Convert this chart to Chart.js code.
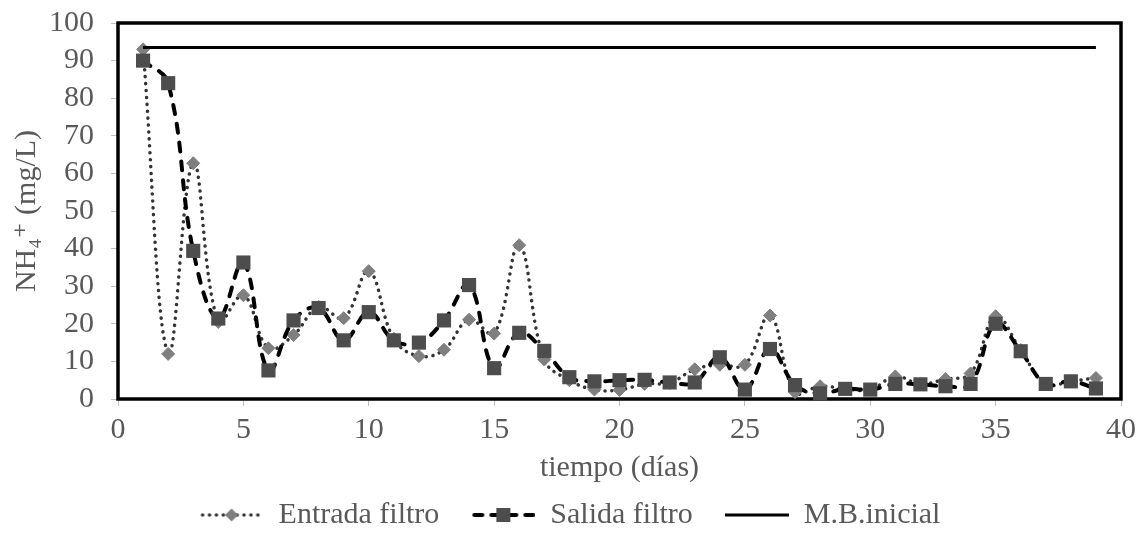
<!DOCTYPE html>
<html>
<head>
<meta charset="utf-8">
<script src="https://cdn.jsdelivr.net/npm/chart.js@4.4.1/dist/chart.umd.min.js"></script>
<style>
html,body{margin:0;padding:0;background:#fff;}
#c{display:block;}
</style>
</head>
<body>
<canvas id="c" width="1142" height="539"></canvas>
<script>
// ---- data ----
const days = [1,2,3,4,5,6,7,8,9,10,11,12,13,14,15,16,17,18,19,20,21,22,23,24,25,26,27,28,29,30,31,32,33,34,35,36,37,38,39];
const entradaFiltro = [93,12,62.7,20.5,27.6,13.5,17,24.5,21.5,34,16,11.4,13.1,21.1,17.4,40.9,10.5,5,2.5,2.4,4,4.3,7.9,9.1,9.1,22.2,1.8,3.4,2.7,2.5,6,4,5.3,6.8,22,13,4,4.7,5.6];
const salidaFiltro = [90,84,39.4,21.4,36.3,7.6,20.9,24.2,15.6,23.1,15.6,15,20.9,30.3,8.2,17.6,12.8,5.8,4.7,5,5.1,4.4,4.4,11.1,2.5,13.3,3.7,1.5,2.7,2.5,4,3.9,3.4,4,20,12.7,4,4.7,2.8];
const mbDays = [1, 39];
const mbInicial = [93.5, 93.5];
const xTickValues = [0,5,10,15,20,25,30,35,40];
const yTickValues = [0,10,20,30,40,50,60,70,80,90,100];
const seriesNames = ['Entrada filtro', 'Salida filtro', 'M.B.inicial'];
const xTitle = 'tiempo (días)';
const yTitle = 'NH\u2084\u207A (mg/L)';

// ---- styles ----
const FONT = "'Liberation Serif', 'Times New Roman', 'DejaVu Serif', serif";
const FS = 30;
const TEXT = '#595959';
const AXIS = '#bfbfbf';

function pts(xs, ys){ return xs.map((x,i)=>({x:x, y:ys[i]})); }

function legendSample(kind){
  const c = document.createElement('canvas');
  c.width = 64; c.height = 22;
  const g = c.getContext('2d');
  const cy = 11;
  if (kind === 'dot') {
    g.strokeStyle = '#333333'; g.lineWidth = 3.5; g.lineCap = 'round';
    g.setLineDash([0.1, 6.8]);
    g.beginPath(); g.moveTo(3, cy); g.lineTo(62, cy); g.stroke();
    g.setLineDash([]);
    g.fillStyle = '#7f7f7f';
    g.beginPath(); g.moveTo(32, cy-6.5); g.lineTo(38.5, cy); g.lineTo(32, cy+6.5); g.lineTo(25.5, cy); g.closePath(); g.fill();
  } else if (kind === 'dash') {
    g.strokeStyle = '#000'; g.lineWidth = 4; g.lineCap = 'round';
    g.setLineDash([8, 9]);
    g.beginPath(); g.moveTo(3, cy); g.lineTo(62, cy); g.stroke();
    g.setLineDash([]);
    g.fillStyle = '#4d4d4d';
    g.fillRect(25, cy-7, 14, 14);
  } else {
    g.strokeStyle = '#000'; g.lineWidth = 3;
    g.beginPath(); g.moveTo(0, cy); g.lineTo(64, cy); g.stroke();
  }
  return c;
}
const samples = [legendSample('dot'), legendSample('dash'), legendSample('solid')];

const framePlugin = {
  id: 'frame',
  beforeDatasetsDraw(chart){
    const {ctx, chartArea:a} = chart;
    ctx.save();
    ctx.strokeStyle = '#000';
    ctx.lineWidth = 3.5;
    ctx.strokeRect(a.left, a.top, a.right - a.left, a.bottom - a.top);
    ctx.restore();
  }
};

new Chart(document.getElementById('c'), {
  type: 'line',
  data: {
    datasets: [
      {
        label: seriesNames[0],
        data: pts(days, entradaFiltro),
        order: 2,
        borderColor: '#333333',
        borderWidth: 3.5,
        borderDash: [0.1, 6.8],
        borderCapStyle: 'round',
        tension: 0.4,
        pointStyle: 'rectRot',
        pointRadius: 6.5,
        pointBackgroundColor: '#7f7f7f',
        pointBorderColor: '#7f7f7f',
        pointBorderWidth: 1,
        clip: false
      },
      {
        label: seriesNames[1],
        data: pts(days, salidaFiltro),
        order: 1,
        borderColor: '#000000',
        borderWidth: 4,
        borderDash: [9, 10],
        borderCapStyle: 'round',
        tension: 0.4,
        pointStyle: 'rect',
        pointRadius: 10,
        pointBackgroundColor: '#4d4d4d',
        pointBorderColor: '#4d4d4d',
        pointBorderWidth: 0,
        clip: false
      },
      {
        label: seriesNames[2],
        data: pts(mbDays, mbInicial),
        order: 0,
        borderColor: '#000000',
        borderWidth: 3,
        pointRadius: 0,
        tension: 0,
        clip: false
      }
    ]
  },
  options: {
    responsive: false,
    animation: false,
    devicePixelRatio: 1,
    events: [],
    layout: { padding: { left: 16, right: 18, top: 23, bottom: -1 } },
    scales: {
      x: {
        type: 'linear',
        min: 0, max: 40,
        afterBuildTicks: s => { s.ticks = xTickValues.map(v => ({value: v})); },
        afterFit: s => { s.height = 69; },
        grid: { drawOnChartArea: false, drawTicks: true, tickLength: 7, color: AXIS },
        border: { display: true, color: AXIS, width: 1 },
        ticks: { color: TEXT, padding: 6, maxRotation: 0, autoSkip: false, font: { family: FONT, size: FS } },
        title: { display: true, text: xTitle, color: TEXT, font: { family: FONT, size: FS }, padding: { top: 0, bottom: -18 } }
      },
      y: {
        min: 0, max: 100,
        afterBuildTicks: s => { s.ticks = yTickValues.map(v => ({value: v})); },
        afterFit: s => { s.width = 102; s.paddingTop = 0; s.paddingBottom = 0; },
        grid: { drawOnChartArea: false, drawTicks: true, tickLength: 7, color: AXIS },
        border: { display: true, color: AXIS, width: 1 },
        ticks: { color: TEXT, padding: 17, autoSkip: false, font: { family: FONT, size: FS } },
        title: { display: true, text: yTitle, color: TEXT, font: { family: FONT, size: FS }, padding: { top: -7, bottom: 0 } }
      }
    },
    plugins: {
      tooltip: { enabled: false },
      legend: {
        position: 'bottom',
        labels: {
          color: TEXT,
          font: { family: FONT, size: FS },
          padding: 32,
          usePointStyle: true,
          pointStyleWidth: 64,
          sort: (a, b) => a.datasetIndex - b.datasetIndex,
          generateLabels: chart => chart.data.datasets.map((ds, i) => ({
            text: ds.label,
            datasetIndex: i,
            pointStyle: samples[i],
            fillStyle: 'transparent',
            strokeStyle: 'transparent',
            lineWidth: 0,
            fontColor: TEXT,
            hidden: false
          }))
        }
      }
    }
  },
  plugins: [framePlugin]
});
</script>
</body>
</html>
